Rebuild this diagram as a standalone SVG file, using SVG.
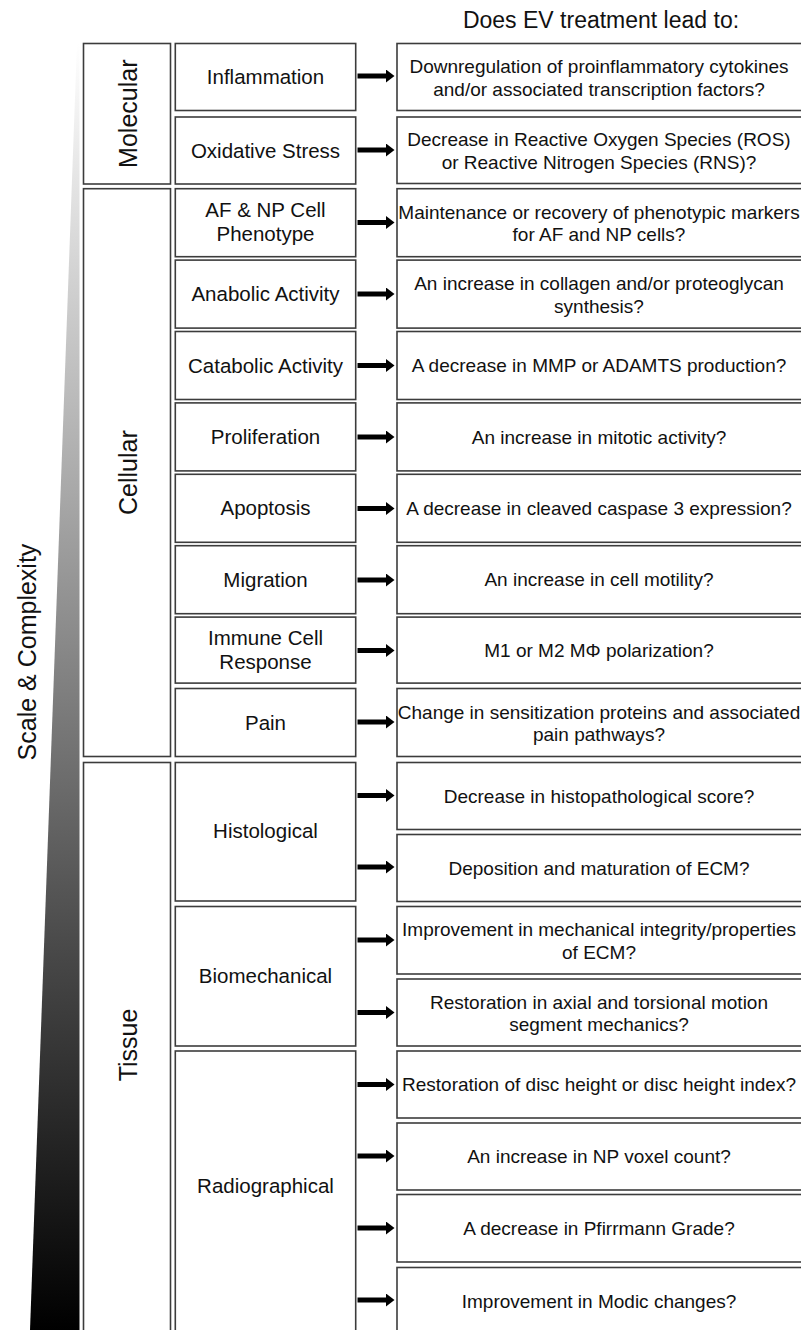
<svg xmlns="http://www.w3.org/2000/svg" width="801" height="1330" viewBox="0 0 801 1330">
<defs>
<linearGradient id="wedgeGrad" x1="0" y1="43" x2="0" y2="1330" gradientUnits="userSpaceOnUse">
<stop offset="0" stop-color="#ffffff"/>
<stop offset="0.35" stop-color="#a8a8a8"/>
<stop offset="0.7" stop-color="#4a4a4a"/>
<stop offset="1" stop-color="#000000"/>
</linearGradient>
<marker id="head" markerUnits="userSpaceOnUse" markerWidth="9" markerHeight="13" refX="0" refY="6.5" orient="auto">
<path d="M0,0 L8.5,6.5 L0,13 Z" fill="#000"/>
</marker>
<style>
.box{fill:#fff;stroke:#3c3c3c;stroke-width:1.6}
.t{font-family:"Liberation Sans",Arial,Helvetica,sans-serif;fill:#111;text-anchor:middle}
.big{font-size:25px}
.mid{font-size:20.5px}
.rt{font-size:19px}
.title{font-size:23px}
.arr{stroke:#000;stroke-width:5;fill:none;marker-end:url(#head)}
</style>
</defs>
<rect width="801" height="1330" fill="#fff"/>

<g id="scale-wedge">
<polygon points="77,43 79.5,43 79.5,1330 30,1330" fill="url(#wedgeGrad)"/>
<text class="t big" transform="translate(36,652) rotate(-90)">Scale &amp; Complexity</text>
</g>

<g id="title">
<text class="t title" x="601" y="28">Does EV treatment lead to:</text>
</g>

<!-- Left category column -->
<g id="cat-molecular">
<rect class="box" x="83.5" y="43.5" width="87" height="140.5"/>
<text class="t big" transform="translate(136.5,113.7) rotate(-90)">Molecular</text>
</g>
<g id="cat-cellular">
<rect class="box" x="83.5" y="188.7" width="87" height="567.8"/>
<text class="t big" transform="translate(136.5,472.6) rotate(-90)">Cellular</text>
</g>
<g id="cat-tissue">
<rect class="box" x="83.5" y="762.5" width="87" height="580"/>
<text class="t big" transform="translate(136.5,1045) rotate(-90)">Tissue</text>
</g>

<!-- Middle column -->
<g id="n-inflammation">
<rect class="box" x="175.3" y="43.5" width="180.4" height="67"/>
<text class="t mid" x="265.5" y="84">Inflammation</text>
</g>
<g id="n-oxidative">
<rect class="box" x="175.3" y="117" width="180.4" height="67"/>
<text class="t mid" x="265.5" y="157.5">Oxidative Stress</text>
</g>
<g id="n-phenotype">
<rect class="box" x="175.3" y="188.7" width="180.4" height="68"/>
<text class="t mid" x="265.5" y="217.2">AF &amp; NP Cell</text>
<text class="t mid" x="265.5" y="241.2">Phenotype</text>
</g>
<g id="n-anabolic">
<rect class="box" x="175.3" y="260.1" width="180.4" height="68"/>
<text class="t mid" x="265.5" y="301.1">Anabolic Activity</text>
</g>
<g id="n-catabolic">
<rect class="box" x="175.3" y="331.5" width="180.4" height="68"/>
<text class="t mid" x="265.5" y="372.5">Catabolic Activity</text>
</g>
<g id="n-proliferation">
<rect class="box" x="175.3" y="402.9" width="180.4" height="68"/>
<text class="t mid" x="265.5" y="443.9">Proliferation</text>
</g>
<g id="n-apoptosis">
<rect class="box" x="175.3" y="474.3" width="180.4" height="68"/>
<text class="t mid" x="265.5" y="515.3">Apoptosis</text>
</g>
<g id="n-migration">
<rect class="box" x="175.3" y="545.7" width="180.4" height="68"/>
<text class="t mid" x="265.5" y="586.7">Migration</text>
</g>
<g id="n-immune">
<rect class="box" x="175.3" y="617.1" width="180.4" height="66"/>
<text class="t mid" x="265.5" y="644.6">Immune Cell</text>
<text class="t mid" x="265.5" y="668.6">Response</text>
</g>
<g id="n-pain">
<rect class="box" x="175.3" y="688.5" width="180.4" height="68"/>
<text class="t mid" x="265.5" y="729.5">Pain</text>
</g>
<g id="n-histological">
<rect class="box" x="175.3" y="762.5" width="180.4" height="138.5"/>
<text class="t mid" x="265.5" y="838">Histological</text>
</g>
<g id="n-biomechanical">
<rect class="box" x="175.3" y="906.5" width="180.4" height="139.5"/>
<text class="t mid" x="265.5" y="983">Biomechanical</text>
</g>
<g id="n-radiographical">
<rect class="box" x="175.3" y="1051" width="180.4" height="290"/>
<text class="t mid" x="265.5" y="1193">Radiographical</text>
</g>

<!-- Right column -->
<g id="q-inflammation">
<rect class="box" x="397" y="43.5" width="410" height="67"/>
<text class="t rt" x="599" y="73">Downregulation of proinflammatory cytokines</text>
<text class="t rt" x="599" y="95.5">and/or associated transcription factors?</text>
</g>
<g id="q-oxidative">
<rect class="box" x="397" y="117" width="410" height="66.5"/>
<text class="t rt" x="599" y="146.3">Decrease in Reactive Oxygen Species (ROS)</text>
<text class="t rt" x="599" y="168.8">or Reactive Nitrogen Species (RNS)?</text>
</g>
<g id="q-phenotype">
<rect class="box" x="397" y="188.7" width="410" height="68"/>
<text class="t rt" x="599" y="218.7">Maintenance or recovery of phenotypic markers</text>
<text class="t rt" x="599" y="241.2">for AF and NP cells?</text>
</g>
<g id="q-anabolic">
<rect class="box" x="397" y="260.1" width="410" height="68"/>
<text class="t rt" x="599" y="290.1">An increase in collagen and/or proteoglycan</text>
<text class="t rt" x="599" y="312.6">synthesis?</text>
</g>
<g id="q-catabolic">
<rect class="box" x="397" y="331.5" width="410" height="68"/>
<text class="t rt" x="599" y="372.2">A decrease in MMP or ADAMTS production?</text>
</g>
<g id="q-proliferation">
<rect class="box" x="397" y="402.9" width="410" height="68"/>
<text class="t rt" x="599" y="443.6">An increase in mitotic activity?</text>
</g>
<g id="q-apoptosis">
<rect class="box" x="397" y="474.3" width="410" height="68"/>
<text class="t rt" x="599" y="515">A decrease in cleaved caspase 3 expression?</text>
</g>
<g id="q-migration">
<rect class="box" x="397" y="545.7" width="410" height="68"/>
<text class="t rt" x="599" y="586.4">An increase in cell motility?</text>
</g>
<g id="q-immune">
<rect class="box" x="397" y="617.1" width="410" height="66"/>
<text class="t rt" x="599" y="656.8">M1 or M2 MΦ polarization?</text>
</g>
<g id="q-pain">
<rect class="box" x="397" y="688.5" width="410" height="68"/>
<text class="t rt" x="599" y="718.5">Change in sensitization proteins and associated</text>
<text class="t rt" x="599" y="741">pain pathways?</text>
</g>
<g id="q-histoscore">
<rect class="box" x="397" y="762.5" width="410" height="67"/>
<text class="t rt" x="599" y="802.7">Decrease in histopathological score?</text>
</g>
<g id="q-ecm">
<rect class="box" x="397" y="834.5" width="410" height="67"/>
<text class="t rt" x="599" y="874.7">Deposition and maturation of ECM?</text>
</g>
<g id="q-mechanical">
<rect class="box" x="397" y="906.5" width="410" height="67.5"/>
<text class="t rt" x="599" y="936">Improvement in mechanical integrity/properties</text>
<text class="t rt" x="599" y="958.5">of ECM?</text>
</g>
<g id="q-motion">
<rect class="box" x="397" y="979" width="410" height="67"/>
<text class="t rt" x="599" y="1008.5">Restoration in axial and torsional motion</text>
<text class="t rt" x="599" y="1031">segment mechanics?</text>
</g>
<g id="q-discheight">
<rect class="box" x="397" y="1051" width="410" height="67"/>
<text class="t rt" x="599" y="1091.2">Restoration of disc height or disc height index?</text>
</g>
<g id="q-voxel">
<rect class="box" x="397" y="1123" width="410" height="67"/>
<text class="t rt" x="599" y="1163.2">An increase in NP voxel count?</text>
</g>
<g id="q-pfirrmann">
<rect class="box" x="397" y="1194.5" width="410" height="67.5"/>
<text class="t rt" x="599" y="1235">A decrease in Pfirrmann Grade?</text>
</g>
<g id="q-modic">
<rect class="box" x="397" y="1267.5" width="410" height="75"/>
<text class="t rt" x="599" y="1307.7">Improvement in Modic changes?</text>
</g>

<g id="connectors">
<line class="arr" x1="357.5" y1="76" x2="386" y2="76"/>
<line class="arr" x1="357.5" y1="150" x2="386" y2="150"/>
<line class="arr" x1="357.5" y1="222.5" x2="386" y2="222.5"/>
<line class="arr" x1="357.5" y1="294" x2="386" y2="294"/>
<line class="arr" x1="357.5" y1="365.5" x2="386" y2="365.5"/>
<line class="arr" x1="357.5" y1="437" x2="386" y2="437"/>
<line class="arr" x1="357.5" y1="508.5" x2="386" y2="508.5"/>
<line class="arr" x1="357.5" y1="580" x2="386" y2="580"/>
<line class="arr" x1="357.5" y1="650.5" x2="386" y2="650.5"/>
<line class="arr" x1="357.5" y1="722" x2="386" y2="722"/>
<line class="arr" x1="357.5" y1="795.5" x2="386" y2="795.5"/>
<line class="arr" x1="357.5" y1="867" x2="386" y2="867"/>
<line class="arr" x1="357.5" y1="940" x2="386" y2="940"/>
<line class="arr" x1="357.5" y1="1012.5" x2="386" y2="1012.5"/>
<line class="arr" x1="357.5" y1="1084.5" x2="386" y2="1084.5"/>
<line class="arr" x1="357.5" y1="1156" x2="386" y2="1156"/>
<line class="arr" x1="357.5" y1="1228" x2="386" y2="1228"/>
<line class="arr" x1="357.5" y1="1300" x2="386" y2="1300"/>
</g>
</svg>
